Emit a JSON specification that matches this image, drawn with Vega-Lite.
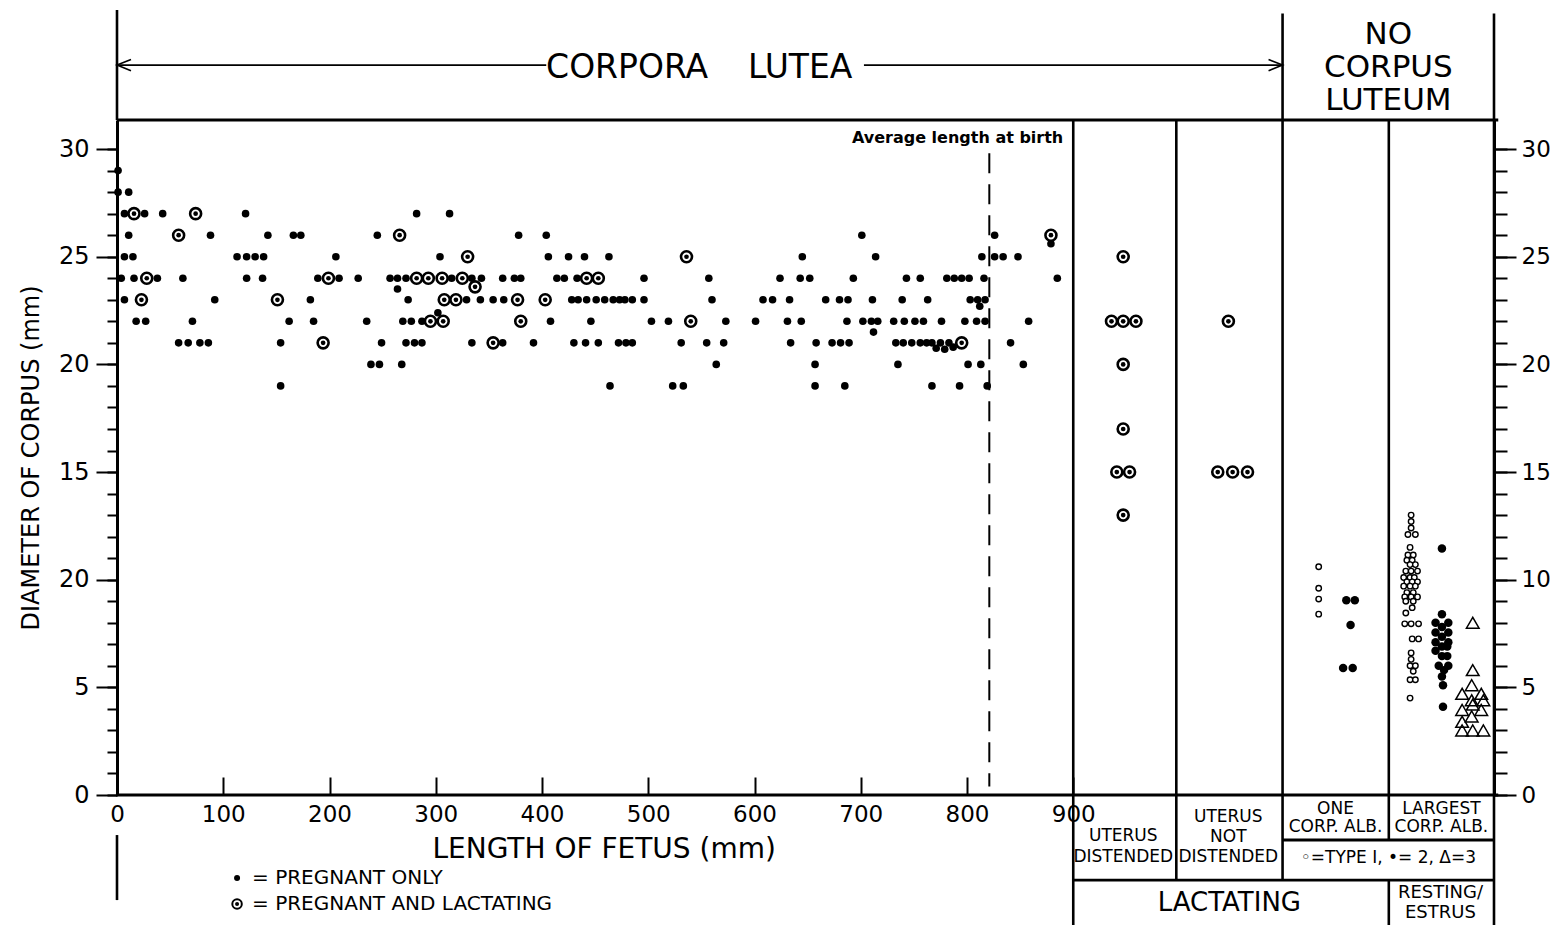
{
  "$schema": "https://vega.github.io/schema/vega-lite/v6.json",
  "width": 1377,
  "height": 675,
  "autosize": {"type": "none"},
  "padding": {"left": 117, "top": 120, "right": 63, "bottom": 130},
  "background": "white",
  "config": {
    "view": {"stroke": null},
    "font": "DejaVu Sans",
    "text": {"font": "DejaVu Sans", "color": "black"},
    "axis": {"grid": false, "domainColor": "black", "tickColor": "black", "labelColor": "black", "titleColor": "black", "labelFont": "DejaVu Sans", "titleFont": "DejaVu Sans", "titleFontWeight": "normal"}
  },
  "datasets": {
    "pts": [
      {"length":1,"diameter":29,"status":"pregnant"},{"length":1,"diameter":28,"status":"pregnant"},{"length":11,"diameter":28,"status":"pregnant"},
      {"length":7,"diameter":27,"status":"pregnant"},{"length":26,"diameter":27,"status":"pregnant"},{"length":43,"diameter":27,"status":"pregnant"},{"length":121,"diameter":27,"status":"pregnant"},{"length":282,"diameter":27,"status":"pregnant"},{"length":313,"diameter":27,"status":"pregnant"},
      {"length":11,"diameter":26,"status":"pregnant"},{"length":88,"diameter":26,"status":"pregnant"},{"length":142,"diameter":26,"status":"pregnant"},{"length":166,"diameter":26,"status":"pregnant"},{"length":173,"diameter":26,"status":"pregnant"},{"length":245,"diameter":26,"status":"pregnant"},{"length":378,"diameter":26,"status":"pregnant"},{"length":404,"diameter":26,"status":"pregnant"},{"length":701,"diameter":26,"status":"pregnant"},{"length":826,"diameter":26,"status":"pregnant"},{"length":879,"diameter":25.6,"status":"pregnant"},
      {"length":7,"diameter":25,"status":"pregnant"},{"length":15,"diameter":25,"status":"pregnant"},{"length":113,"diameter":25,"status":"pregnant"},{"length":122,"diameter":25,"status":"pregnant"},{"length":130,"diameter":25,"status":"pregnant"},{"length":138,"diameter":25,"status":"pregnant"},{"length":206,"diameter":25,"status":"pregnant"},{"length":304,"diameter":25,"status":"pregnant"},{"length":406,"diameter":25,"status":"pregnant"},{"length":425,"diameter":25,"status":"pregnant"},{"length":440,"diameter":25,"status":"pregnant"},{"length":463,"diameter":25,"status":"pregnant"},{"length":645,"diameter":25,"status":"pregnant"},{"length":714,"diameter":25,"status":"pregnant"},{"length":814,"diameter":25,"status":"pregnant"},{"length":826,"diameter":25,"status":"pregnant"},{"length":834,"diameter":25,"status":"pregnant"},{"length":848,"diameter":25,"status":"pregnant"},
      {"length":4,"diameter":24,"status":"pregnant"},{"length":16,"diameter":24,"status":"pregnant"},{"length":38,"diameter":24,"status":"pregnant"},{"length":62,"diameter":24,"status":"pregnant"},{"length":122,"diameter":24,"status":"pregnant"},{"length":137,"diameter":24,"status":"pregnant"},{"length":189,"diameter":24,"status":"pregnant"},{"length":209,"diameter":24,"status":"pregnant"},{"length":227,"diameter":24,"status":"pregnant"},{"length":257,"diameter":24,"status":"pregnant"},{"length":264,"diameter":24,"status":"pregnant"},{"length":272,"diameter":24,"status":"pregnant"},{"length":315,"diameter":24,"status":"pregnant"},{"length":334,"diameter":24,"status":"pregnant"},{"length":343,"diameter":24,"status":"pregnant"},{"length":363,"diameter":24,"status":"pregnant"},{"length":374,"diameter":24,"status":"pregnant"},{"length":380,"diameter":24,"status":"pregnant"},{"length":414,"diameter":24,"status":"pregnant"},{"length":421,"diameter":24,"status":"pregnant"},{"length":433,"diameter":24,"status":"pregnant"},{"length":496,"diameter":24,"status":"pregnant"},{"length":557,"diameter":24,"status":"pregnant"},{"length":624,"diameter":24,"status":"pregnant"},{"length":643,"diameter":24,"status":"pregnant"},{"length":652,"diameter":24,"status":"pregnant"},{"length":693,"diameter":24,"status":"pregnant"},{"length":743,"diameter":24,"status":"pregnant"},{"length":756,"diameter":24,"status":"pregnant"},{"length":781,"diameter":24,"status":"pregnant"},{"length":788,"diameter":24,"status":"pregnant"},{"length":795,"diameter":24,"status":"pregnant"},{"length":802,"diameter":24,"status":"pregnant"},{"length":816,"diameter":24,"status":"pregnant"},{"length":885,"diameter":24,"status":"pregnant"},
      {"length":264,"diameter":23.5,"status":"pregnant"},
      {"length":7,"diameter":23,"status":"pregnant"},{"length":92,"diameter":23,"status":"pregnant"},{"length":182,"diameter":23,"status":"pregnant"},{"length":274,"diameter":23,"status":"pregnant"},{"length":329,"diameter":23,"status":"pregnant"},{"length":342,"diameter":23,"status":"pregnant"},{"length":354,"diameter":23,"status":"pregnant"},{"length":364,"diameter":23,"status":"pregnant"},{"length":428,"diameter":23,"status":"pregnant"},{"length":434,"diameter":23,"status":"pregnant"},{"length":442,"diameter":23,"status":"pregnant"},{"length":451,"diameter":23,"status":"pregnant"},{"length":459,"diameter":23,"status":"pregnant"},{"length":467,"diameter":23,"status":"pregnant"},{"length":473,"diameter":23,"status":"pregnant"},{"length":478,"diameter":23,"status":"pregnant"},{"length":485,"diameter":23,"status":"pregnant"},{"length":496,"diameter":23,"status":"pregnant"},{"length":560,"diameter":23,"status":"pregnant"},{"length":608,"diameter":23,"status":"pregnant"},{"length":617,"diameter":23,"status":"pregnant"},{"length":633,"diameter":23,"status":"pregnant"},{"length":667,"diameter":23,"status":"pregnant"},{"length":680,"diameter":23,"status":"pregnant"},{"length":688,"diameter":23,"status":"pregnant"},{"length":711,"diameter":23,"status":"pregnant"},{"length":739,"diameter":23,"status":"pregnant"},{"length":763,"diameter":23,"status":"pregnant"},{"length":803,"diameter":23,"status":"pregnant"},{"length":810,"diameter":23,"status":"pregnant"},{"length":817,"diameter":23,"status":"pregnant"},{"length":812,"diameter":22.7,"status":"pregnant"},
      {"length":302,"diameter":22.4,"status":"pregnant"},
      {"length":18,"diameter":22,"status":"pregnant"},{"length":27,"diameter":22,"status":"pregnant"},{"length":71,"diameter":22,"status":"pregnant"},{"length":162,"diameter":22,"status":"pregnant"},{"length":185,"diameter":22,"status":"pregnant"},{"length":235,"diameter":22,"status":"pregnant"},{"length":269,"diameter":22,"status":"pregnant"},{"length":277,"diameter":22,"status":"pregnant"},{"length":287,"diameter":22,"status":"pregnant"},{"length":408,"diameter":22,"status":"pregnant"},{"length":446,"diameter":22,"status":"pregnant"},{"length":503,"diameter":22,"status":"pregnant"},{"length":519,"diameter":22,"status":"pregnant"},{"length":573,"diameter":22,"status":"pregnant"},{"length":601,"diameter":22,"status":"pregnant"},{"length":631,"diameter":22,"status":"pregnant"},{"length":644,"diameter":22,"status":"pregnant"},{"length":687,"diameter":22,"status":"pregnant"},{"length":702,"diameter":22,"status":"pregnant"},{"length":710,"diameter":22,"status":"pregnant"},{"length":716,"diameter":22,"status":"pregnant"},{"length":731,"diameter":22,"status":"pregnant"},{"length":741,"diameter":22,"status":"pregnant"},{"length":751,"diameter":22,"status":"pregnant"},{"length":759,"diameter":22,"status":"pregnant"},{"length":776,"diameter":22,"status":"pregnant"},{"length":798,"diameter":22,"status":"pregnant"},{"length":809,"diameter":22,"status":"pregnant"},{"length":817,"diameter":22,"status":"pregnant"},{"length":858,"diameter":22,"status":"pregnant"},{"length":712,"diameter":21.5,"status":"pregnant"},
      {"length":58,"diameter":21,"status":"pregnant"},{"length":67,"diameter":21,"status":"pregnant"},{"length":78,"diameter":21,"status":"pregnant"},{"length":86,"diameter":21,"status":"pregnant"},{"length":154,"diameter":21,"status":"pregnant"},{"length":249,"diameter":21,"status":"pregnant"},{"length":272,"diameter":21,"status":"pregnant"},{"length":280,"diameter":21,"status":"pregnant"},{"length":287,"diameter":21,"status":"pregnant"},{"length":334,"diameter":21,"status":"pregnant"},{"length":363,"diameter":21,"status":"pregnant"},{"length":392,"diameter":21,"status":"pregnant"},{"length":430,"diameter":21,"status":"pregnant"},{"length":441,"diameter":21,"status":"pregnant"},{"length":453,"diameter":21,"status":"pregnant"},{"length":472,"diameter":21,"status":"pregnant"},{"length":479,"diameter":21,"status":"pregnant"},{"length":485,"diameter":21,"status":"pregnant"},{"length":531,"diameter":21,"status":"pregnant"},{"length":555,"diameter":21,"status":"pregnant"},{"length":571,"diameter":21,"status":"pregnant"},{"length":634,"diameter":21,"status":"pregnant"},{"length":658,"diameter":21,"status":"pregnant"},{"length":673,"diameter":21,"status":"pregnant"},{"length":681,"diameter":21,"status":"pregnant"},{"length":689,"diameter":21,"status":"pregnant"},{"length":733,"diameter":21,"status":"pregnant"},{"length":740,"diameter":21,"status":"pregnant"},{"length":748,"diameter":21,"status":"pregnant"},{"length":756,"diameter":21,"status":"pregnant"},{"length":762,"diameter":21,"status":"pregnant"},{"length":767,"diameter":21,"status":"pregnant"},{"length":775,"diameter":21,"status":"pregnant"},{"length":783,"diameter":21,"status":"pregnant"},{"length":841,"diameter":21,"status":"pregnant"},{"length":771,"diameter":20.75,"status":"pregnant"},{"length":779,"diameter":20.7,"status":"pregnant"},{"length":787,"diameter":20.8,"status":"pregnant"},
      {"length":239,"diameter":20,"status":"pregnant"},{"length":247,"diameter":20,"status":"pregnant"},{"length":268,"diameter":20,"status":"pregnant"},{"length":564,"diameter":20,"status":"pregnant"},{"length":657,"diameter":20,"status":"pregnant"},{"length":735,"diameter":20,"status":"pregnant"},{"length":801,"diameter":20,"status":"pregnant"},{"length":813,"diameter":20,"status":"pregnant"},{"length":853,"diameter":20,"status":"pregnant"},
      {"length":154,"diameter":19,"status":"pregnant"},{"length":464,"diameter":19,"status":"pregnant"},{"length":523,"diameter":19,"status":"pregnant"},{"length":533,"diameter":19,"status":"pregnant"},{"length":657,"diameter":19,"status":"pregnant"},{"length":685,"diameter":19,"status":"pregnant"},{"length":767,"diameter":19,"status":"pregnant"},{"length":793,"diameter":19,"status":"pregnant"},{"length":819,"diameter":19,"status":"pregnant"},
      {"length":16,"diameter":27,"status":"lactating"},{"length":74,"diameter":27,"status":"lactating"},{"length":58,"diameter":26,"status":"lactating"},{"length":266,"diameter":26,"status":"lactating"},{"length":879,"diameter":26,"status":"lactating"},{"length":330,"diameter":25,"status":"lactating"},{"length":536,"diameter":25,"status":"lactating"},{"length":28,"diameter":24,"status":"lactating"},{"length":199,"diameter":24,"status":"lactating"},{"length":282,"diameter":24,"status":"lactating"},{"length":293,"diameter":24,"status":"lactating"},{"length":306,"diameter":24,"status":"lactating"},{"length":325,"diameter":24,"status":"lactating"},{"length":442,"diameter":24,"status":"lactating"},{"length":453,"diameter":24,"status":"lactating"},{"length":337,"diameter":23.6,"status":"lactating"},{"length":23,"diameter":23,"status":"lactating"},{"length":151,"diameter":23,"status":"lactating"},{"length":308,"diameter":23,"status":"lactating"},{"length":319,"diameter":23,"status":"lactating"},{"length":377,"diameter":23,"status":"lactating"},{"length":403,"diameter":23,"status":"lactating"},{"length":295,"diameter":22,"status":"lactating"},{"length":307,"diameter":22,"status":"lactating"},{"length":380,"diameter":22,"status":"lactating"},{"length":540,"diameter":22,"status":"lactating"},{"length":194,"diameter":21,"status":"lactating"},{"length":354,"diameter":21,"status":"lactating"},{"length":795,"diameter":21,"status":"lactating"},
      {"length":947,"diameter":25,"status":"lactating"},{"length":936,"diameter":22,"status":"lactating"},{"length":947,"diameter":22,"status":"lactating"},{"length":959,"diameter":22,"status":"lactating"},{"length":947,"diameter":20,"status":"lactating"},{"length":947,"diameter":17,"status":"lactating"},{"length":941,"diameter":15,"status":"lactating"},{"length":953,"diameter":15,"status":"lactating"},{"length":947,"diameter":13,"status":"lactating"},
      {"length":1046,"diameter":22,"status":"lactating"},{"length":1036,"diameter":15,"status":"lactating"},{"length":1050,"diameter":15,"status":"lactating"},{"length":1064,"diameter":15,"status":"lactating"}
    ],
    "alb": [
      {"pos":1131,"diameter":10.6,"type":1},{"pos":1131,"diameter":9.6,"type":1},{"pos":1131,"diameter":9.1,"type":1},{"pos":1131,"diameter":8.4,"type":1},
      {"pos":1157,"diameter":9.05,"type":2},{"pos":1165,"diameter":9.05,"type":2},{"pos":1161,"diameter":7.9,"type":2},{"pos":1154,"diameter":5.9,"type":2},{"pos":1163,"diameter":5.9,"type":2},
      {"pos":1218,"diameter":13.0,"type":1},{"pos":1218,"diameter":12.7,"type":1},{"pos":1218,"diameter":12.4,"type":1},{"pos":1215,"diameter":12.1,"type":1},{"pos":1222,"diameter":12.1,"type":1},{"pos":1217,"diameter":11.5,"type":1},{"pos":1215,"diameter":11.15,"type":1},{"pos":1220,"diameter":11.15,"type":1},{"pos":1214,"diameter":10.9,"type":1},{"pos":1219,"diameter":10.9,"type":1},{"pos":1217,"diameter":10.7,"type":1},{"pos":1222,"diameter":10.7,"type":1},{"pos":1213,"diameter":10.4,"type":1},{"pos":1218,"diameter":10.4,"type":1},{"pos":1224,"diameter":10.4,"type":1},{"pos":1211,"diameter":10.1,"type":1},{"pos":1217,"diameter":10.1,"type":1},{"pos":1221,"diameter":10.1,"type":1},{"pos":1214,"diameter":9.9,"type":1},{"pos":1219,"diameter":9.9,"type":1},{"pos":1224,"diameter":9.9,"type":1},{"pos":1211,"diameter":9.7,"type":1},{"pos":1217,"diameter":9.7,"type":1},{"pos":1222,"diameter":9.7,"type":1},{"pos":1214,"diameter":9.4,"type":1},{"pos":1220,"diameter":9.4,"type":1},{"pos":1212,"diameter":9.2,"type":1},{"pos":1218,"diameter":9.2,"type":1},{"pos":1224,"diameter":9.2,"type":1},{"pos":1213,"diameter":9.0,"type":1},{"pos":1220,"diameter":9.0,"type":1},{"pos":1219,"diameter":8.7,"type":1},{"pos":1213,"diameter":8.45,"type":1},{"pos":1212,"diameter":7.95,"type":1},{"pos":1218,"diameter":7.95,"type":1},{"pos":1225,"diameter":7.95,"type":1},{"pos":1219,"diameter":7.25,"type":1},{"pos":1225,"diameter":7.25,"type":1},{"pos":1218,"diameter":6.6,"type":1},{"pos":1218,"diameter":6.3,"type":1},{"pos":1217,"diameter":6.0,"type":1},{"pos":1222,"diameter":6.0,"type":1},{"pos":1220,"diameter":5.75,"type":1},{"pos":1217,"diameter":5.35,"type":1},{"pos":1222,"diameter":5.35,"type":1},{"pos":1217,"diameter":4.5,"type":1},
      {"pos":1247,"diameter":11.45,"type":2},{"pos":1247,"diameter":8.4,"type":2},{"pos":1241,"diameter":8.0,"type":2},{"pos":1253,"diameter":8.0,"type":2},{"pos":1247,"diameter":7.8,"type":2},{"pos":1241,"diameter":7.55,"type":2},{"pos":1253,"diameter":7.55,"type":2},{"pos":1247,"diameter":7.35,"type":2},{"pos":1241,"diameter":7.1,"type":2},{"pos":1253,"diameter":7.1,"type":2},{"pos":1247,"diameter":6.9,"type":2},{"pos":1252,"diameter":6.9,"type":2},{"pos":1241,"diameter":6.7,"type":2},{"pos":1247,"diameter":6.45,"type":2},{"pos":1252,"diameter":6.45,"type":2},{"pos":1244,"diameter":6.0,"type":2},{"pos":1253,"diameter":6.0,"type":2},{"pos":1249,"diameter":5.8,"type":2},{"pos":1247,"diameter":5.5,"type":2},{"pos":1248,"diameter":5.1,"type":2},{"pos":1248,"diameter":4.1,"type":2},
      {"pos":1276,"diameter":8.0,"type":3},{"pos":1276,"diameter":5.8,"type":3},{"pos":1275,"diameter":5.1,"type":3},{"pos":1266,"diameter":4.7,"type":3},{"pos":1284,"diameter":4.7,"type":3},{"pos":1286,"diameter":4.4,"type":3},{"pos":1275,"diameter":4.4,"type":3},{"pos":1276,"diameter":4.2,"type":3},{"pos":1266,"diameter":3.95,"type":3},{"pos":1284,"diameter":3.95,"type":3},{"pos":1275,"diameter":3.65,"type":3},{"pos":1266,"diameter":3.4,"type":3},{"pos":1266,"diameter":3.0,"type":3},{"pos":1276,"diameter":3.0,"type":3},{"pos":1286,"diameter":3.0,"type":3}
    ],
    "vlines": [
      {"x":0,"y":36.46,"y2":31.35},{"x":0,"y":-1.86,"y2":-4.88},{"x":900,"y":31.35,"y2":-6.04},{"x":997,"y":31.35,"y2":-3.95},{"x":1097,"y":36.3,"y2":-3.95},{"x":1197,"y":31.35,"y2":-2.09},{"x":1197,"y":-3.95,"y2":-6.04},{"x":1296,"y":36.3,"y2":-6.04}
    ],
    "hlines": [
      {"x":0,"x2":1300,"y":31.35},{"x":-1,"x2":1300,"y":0},{"x":1097,"x2":1296,"y":-2.09},{"x":900,"x2":1296,"y":-3.95}
    ],
    "arrowlines": [
      {"x":0,"x2":404,"y":33.9},{"x":703,"x2":1096,"y":33.9}
    ],
    "arrowheads": [
      {"x":0,"y":33.9,"dir":"left"},{"x":1097,"y":33.9,"dir":"right"}
    ],
    "legendmarks": [
      {"x":113,"y":-3.85,"status":"pregnant"},{"x":113,"y":-5.06,"status":"lactating"}
    ],
    "notes": [
      {"x":480.1,"y":33.76,"s":"CORPORA","k":"banner"},
      {"x":643.0,"y":33.76,"s":"LUTEA","k":"banner"},
      {"x":1196.6,"y":35.3,"s":"NO","k":"head"},
      {"x":1196.6,"y":33.76,"s":"CORPUS","k":"head"},
      {"x":1196.6,"y":32.22,"s":"LUTEUM","k":"head"},
      {"x":890.6,"y":30.51,"s":"Average length at birth","k":"avg"},
      {"x":458.5,"y":-2.55,"s":"LENGTH OF FETUS (mm)","k":"xtitle"},
      {"x":947.1,"y":-1.9,"s":"UTERUS","k":"small"},
      {"x":947.1,"y":-2.88,"s":"DISTENDED","k":"small"},
      {"x":1045.9,"y":-1.02,"s":"UTERUS","k":"small"},
      {"x":1045.9,"y":-1.95,"s":"NOT","k":"small"},
      {"x":1045.9,"y":-2.88,"s":"DISTENDED","k":"small"},
      {"x":1146.8,"y":-0.65,"s":"ONE","k":"small"},
      {"x":1146.8,"y":-1.49,"s":"CORP. ALB.","k":"small"},
      {"x":1246.5,"y":-0.65,"s":"LARGEST","k":"small"},
      {"x":1246.5,"y":-1.49,"s":"CORP. ALB.","k":"small"},
      {"x":1196.6,"y":-2.93,"s":"◦=TYPE I,  •= 2,  Δ=3","k":"small"},
      {"x":1245.6,"y":-4.55,"s":"RESTING/","k":"rest"},
      {"x":1245.6,"y":-5.5,"s":"ESTRUS","k":"rest"},
      {"x":1046.9,"y":-5.02,"s":"LACTATING","k":"lact"},
      {"x":127.1,"y":-3.85,"s":"=  PREGNANT ONLY","k":"leg"},
      {"x":127.1,"y":-5.06,"s":"=  PREGNANT AND LACTATING","k":"leg"}
    ]
  },
  "resolve": {"axis": {"x": "independent", "y": "independent"}},
  "layer": [
    {
      "data": {"name": "pts"},
      "transform": [{"filter": "datum.status == 'pregnant'"}],
      "mark": {"type": "circle", "size": 58, "color": "black", "opacity": 1},
      "encoding": {
        "x": {"field": "length", "type": "quantitative", "scale": {"domain": [0, 1296], "nice": false, "zero": false},
          "axis": {"orient": "bottom", "values": [0, 100, 200, 300, 400, 500, 600, 700, 800, 900], "offset": -18, "tickSize": 18, "tickWidth": 2, "labelFontSize": 23, "labelPadding": 8, "labelFlush": false, "labelOverlap": false, "domain": false, "title": null}},
        "y": {"field": "diameter", "type": "quantitative", "scale": {"domain": [0, 31.35], "nice": false, "zero": false},
          "axis": {"orient": "left", "values": [0, 5, 10, 15, 20, 25, 30], "tickSize": 21, "tickWidth": 2, "labelFontSize": 24, "labelPadding": 7, "labelExpr": "datum.value == 10 ? '20' : datum.label", "domainWidth": 3, "title": "DIAMETER OF CORPUS (mm)", "titleFontSize": 24, "titlePadding": 15}}
      }
    },
    {
      "data": {"name": "vlines"},
      "mark": {"type": "rule", "color": "black", "strokeWidth": 2.6},
      "encoding": {
        "x": {"field": "x", "type": "quantitative", "scale": {"domain": [0, 1296], "nice": false, "zero": false}, "axis": null},
        "y": {"field": "y", "type": "quantitative", "scale": {"domain": [0, 31.35], "nice": false, "zero": false}, "axis": null},
        "y2": {"field": "y2"}
      }
    },
    {
      "data": {"name": "hlines"},
      "mark": {"type": "rule", "color": "black", "strokeWidth": 2.8},
      "encoding": {
        "x": {"field": "x", "type": "quantitative", "scale": {"domain": [0, 1296], "nice": false, "zero": false}, "axis": null},
        "x2": {"field": "x2"},
        "y": {"field": "y", "type": "quantitative", "scale": {"domain": [0, 31.35], "nice": false, "zero": false}, "axis": null}
      }
    },
    {
      "data": {"name": "arrowlines"},
      "mark": {"type": "rule", "color": "black", "strokeWidth": 1.6},
      "encoding": {
        "x": {"field": "x", "type": "quantitative", "scale": {"domain": [0, 1296], "nice": false, "zero": false}, "axis": null},
        "x2": {"field": "x2"},
        "y": {"field": "y", "type": "quantitative", "scale": {"domain": [0, 31.35], "nice": false, "zero": false}, "axis": null}
      }
    },
    {
      "data": {"name": "arrowheads"},
      "mark": {"type": "point", "filled": false, "stroke": "black", "strokeWidth": 1.6, "size": 196, "opacity": 1},
      "encoding": {
        "x": {"field": "x", "type": "quantitative", "scale": {"domain": [0, 1296], "nice": false, "zero": false}, "axis": null},
        "y": {"field": "y", "type": "quantitative", "scale": {"domain": [0, 31.35], "nice": false, "zero": false}, "axis": null},
        "shape": {"field": "dir", "type": "nominal", "scale": {"domain": ["left", "right"], "range": ["M2,-0.8L0,0L2,0.8", "M-2,-0.8L0,0L-2,0.8"]}, "legend": null}
      }
    },
    {
      "data": {"values": [{"x": 821, "y": 29.8, "y2": 0.4}]},
      "mark": {"type": "rule", "color": "black", "strokeWidth": 2, "strokeDash": [20, 11]},
      "encoding": {
        "x": {"field": "x", "type": "quantitative", "scale": {"domain": [0, 1296], "nice": false, "zero": false}, "axis": null},
        "y": {"field": "y", "type": "quantitative", "scale": {"domain": [0, 31.35], "nice": false, "zero": false}, "axis": null},
        "y2": {"field": "y2"}
      }
    },
    {
      "data": {"name": "pts"},
      "transform": [{"filter": "datum.status == 'lactating'"}],
      "mark": {"type": "point", "filled": true, "fill": "white", "stroke": "black", "strokeWidth": 2.6, "size": 121, "opacity": 1},
      "encoding": {
        "x": {"field": "length", "type": "quantitative", "scale": {"domain": [0, 1296], "nice": false, "zero": false}, "axis": null},
        "y": {"field": "diameter", "type": "quantitative", "scale": {"domain": [0, 31.35], "nice": false, "zero": false},
          "axis": {"orient": "left", "values": [0,1,2,3,4,5,6,7,8,9,10,11,12,13,14,15,16,17,18,19,20,21,22,23,24,25,26,27,28,29,30], "tickSize": 10, "tickWidth": 2, "labels": false, "domain": false, "title": null}}
      }
    },
    {
      "data": {"name": "pts"},
      "transform": [{"filter": "datum.status == 'lactating'"}],
      "mark": {"type": "circle", "size": 22, "color": "black", "opacity": 1},
      "encoding": {
        "x": {"field": "length", "type": "quantitative", "scale": {"domain": [0, 1296], "nice": false, "zero": false}, "axis": null},
        "y": {"field": "diameter", "type": "quantitative", "scale": {"domain": [0, 31.35], "nice": false, "zero": false},
          "axis": {"orient": "right", "values": [0, 5, 10, 15, 20, 25, 30], "tickSize": 22, "tickWidth": 2, "labelFontSize": 23, "labelPadding": 5, "domainWidth": 3, "title": null}}
      }
    },
    {
      "data": {"name": "alb"},
      "transform": [{"filter": "datum.type == 1"}],
      "mark": {"type": "point", "filled": true, "fill": "white", "stroke": "black", "strokeWidth": 1.4, "size": 30, "opacity": 1},
      "encoding": {
        "x": {"field": "pos", "type": "quantitative", "scale": {"domain": [0, 1296], "nice": false, "zero": false}, "axis": null},
        "y": {"field": "diameter", "type": "quantitative", "scale": {"domain": [0, 31.35], "nice": false, "zero": false},
          "axis": {"orient": "right", "values": [0,1,2,3,4,5,6,7,8,9,10,11,12,13,14,15,16,17,18,19,20,21,22,23,24,25,26,27,28,29,30], "tickSize": 13, "tickWidth": 2, "labels": false, "domain": false, "title": null}}
      }
    },
    {
      "data": {"name": "alb"},
      "transform": [{"filter": "datum.type == 2"}],
      "mark": {"type": "circle", "size": 72, "color": "black", "opacity": 1},
      "encoding": {
        "x": {"field": "pos", "type": "quantitative", "scale": {"domain": [0, 1296], "nice": false, "zero": false}, "axis": null},
        "y": {"field": "diameter", "type": "quantitative", "scale": {"domain": [0, 31.35], "nice": false, "zero": false}, "axis": null}
      }
    },
    {
      "data": {"name": "alb"},
      "transform": [{"filter": "datum.type == 3"}],
      "mark": {"type": "point", "shape": "triangle-up", "filled": false, "stroke": "black", "strokeWidth": 1.5, "size": 160, "opacity": 1},
      "encoding": {
        "x": {"field": "pos", "type": "quantitative", "scale": {"domain": [0, 1296], "nice": false, "zero": false}, "axis": null},
        "y": {"field": "diameter", "type": "quantitative", "scale": {"domain": [0, 31.35], "nice": false, "zero": false}, "axis": null}
      }
    },
    {
      "data": {"name": "legendmarks"},
      "transform": [{"filter": "datum.status == 'pregnant'"}],
      "mark": {"type": "circle", "size": 36, "color": "black", "opacity": 1},
      "encoding": {
        "x": {"field": "x", "type": "quantitative", "scale": {"domain": [0, 1296], "nice": false, "zero": false}, "axis": null},
        "y": {"field": "y", "type": "quantitative", "scale": {"domain": [0, 31.35], "nice": false, "zero": false}, "axis": null}
      }
    },
    {
      "data": {"name": "legendmarks"},
      "transform": [{"filter": "datum.status == 'lactating'"}],
      "mark": {"type": "point", "filled": true, "fill": "white", "stroke": "black", "strokeWidth": 2, "size": 90, "opacity": 1},
      "encoding": {
        "x": {"field": "x", "type": "quantitative", "scale": {"domain": [0, 1296], "nice": false, "zero": false}, "axis": null},
        "y": {"field": "y", "type": "quantitative", "scale": {"domain": [0, 31.35], "nice": false, "zero": false}, "axis": null}
      }
    },
    {
      "data": {"name": "legendmarks"},
      "transform": [{"filter": "datum.status == 'lactating'"}],
      "mark": {"type": "circle", "size": 16, "color": "black", "opacity": 1},
      "encoding": {
        "x": {"field": "x", "type": "quantitative", "scale": {"domain": [0, 1296], "nice": false, "zero": false}, "axis": null},
        "y": {"field": "y", "type": "quantitative", "scale": {"domain": [0, 31.35], "nice": false, "zero": false}, "axis": null}
      }
    },
    {
      "data": {"name": "notes"},
      "transform": [{"filter": "datum.k == 'banner'"}],
      "mark": {"type": "text", "fontSize": 33, "align": "center", "baseline": "middle"},
      "encoding": {
        "x": {"field": "x", "type": "quantitative", "scale": {"domain": [0, 1296], "nice": false, "zero": false}, "axis": null},
        "y": {"field": "y", "type": "quantitative", "scale": {"domain": [0, 31.35], "nice": false, "zero": false}, "axis": null},
        "text": {"field": "s"}
      }
    },
    {
      "data": {"name": "notes"},
      "transform": [{"filter": "datum.k == 'head'"}],
      "mark": {"type": "text", "fontSize": 31, "align": "center", "baseline": "middle"},
      "encoding": {
        "x": {"field": "x", "type": "quantitative", "scale": {"domain": [0, 1296], "nice": false, "zero": false}, "axis": null},
        "y": {"field": "y", "type": "quantitative", "scale": {"domain": [0, 31.35], "nice": false, "zero": false}, "axis": null},
        "text": {"field": "s"}
      }
    },
    {
      "data": {"name": "notes"},
      "transform": [{"filter": "datum.k == 'avg'"}],
      "mark": {"type": "text", "fontSize": 16, "fontWeight": "bold", "align": "right", "baseline": "middle"},
      "encoding": {
        "x": {"field": "x", "type": "quantitative", "scale": {"domain": [0, 1296], "nice": false, "zero": false}, "axis": null},
        "y": {"field": "y", "type": "quantitative", "scale": {"domain": [0, 31.35], "nice": false, "zero": false}, "axis": null},
        "text": {"field": "s"}
      }
    },
    {
      "data": {"name": "notes"},
      "transform": [{"filter": "datum.k == 'xtitle'"}],
      "mark": {"type": "text", "fontSize": 28, "align": "center", "baseline": "middle"},
      "encoding": {
        "x": {"field": "x", "type": "quantitative", "scale": {"domain": [0, 1296], "nice": false, "zero": false}, "axis": null},
        "y": {"field": "y", "type": "quantitative", "scale": {"domain": [0, 31.35], "nice": false, "zero": false}, "axis": null},
        "text": {"field": "s"}
      }
    },
    {
      "data": {"name": "notes"},
      "transform": [{"filter": "datum.k == 'small'"}],
      "mark": {"type": "text", "fontSize": 17, "align": "center", "baseline": "middle"},
      "encoding": {
        "x": {"field": "x", "type": "quantitative", "scale": {"domain": [0, 1296], "nice": false, "zero": false}, "axis": null},
        "y": {"field": "y", "type": "quantitative", "scale": {"domain": [0, 31.35], "nice": false, "zero": false}, "axis": null},
        "text": {"field": "s"}
      }
    },
    {
      "data": {"name": "notes"},
      "transform": [{"filter": "datum.k == 'rest'"}],
      "mark": {"type": "text", "fontSize": 18, "align": "center", "baseline": "middle"},
      "encoding": {
        "x": {"field": "x", "type": "quantitative", "scale": {"domain": [0, 1296], "nice": false, "zero": false}, "axis": null},
        "y": {"field": "y", "type": "quantitative", "scale": {"domain": [0, 31.35], "nice": false, "zero": false}, "axis": null},
        "text": {"field": "s"}
      }
    },
    {
      "data": {"name": "notes"},
      "transform": [{"filter": "datum.k == 'lact'"}],
      "mark": {"type": "text", "fontSize": 26, "align": "center", "baseline": "middle"},
      "encoding": {
        "x": {"field": "x", "type": "quantitative", "scale": {"domain": [0, 1296], "nice": false, "zero": false}, "axis": null},
        "y": {"field": "y", "type": "quantitative", "scale": {"domain": [0, 31.35], "nice": false, "zero": false}, "axis": null},
        "text": {"field": "s"}
      }
    },
    {
      "data": {"name": "notes"},
      "transform": [{"filter": "datum.k == 'leg'"}],
      "mark": {"type": "text", "fontSize": 20, "align": "left", "baseline": "middle"},
      "encoding": {
        "x": {"field": "x", "type": "quantitative", "scale": {"domain": [0, 1296], "nice": false, "zero": false}, "axis": null},
        "y": {"field": "y", "type": "quantitative", "scale": {"domain": [0, 31.35], "nice": false, "zero": false}, "axis": null},
        "text": {"field": "s"}
      }
    }
  ]
}
